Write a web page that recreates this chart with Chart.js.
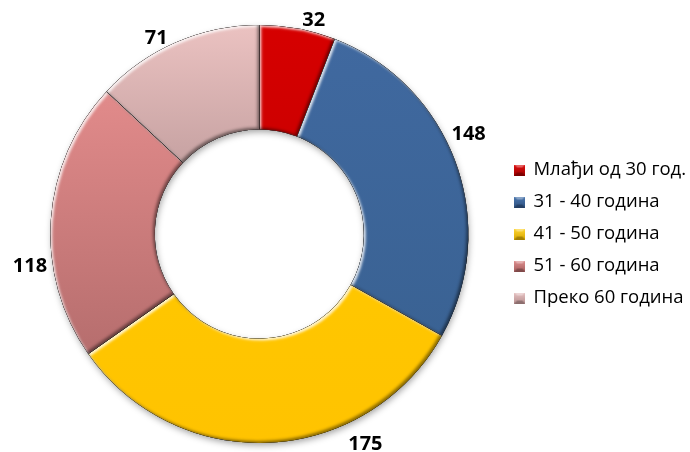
<!DOCTYPE html>
<html>
<head>
<meta charset="utf-8">
<script src="https://cdn.jsdelivr.net/npm/chart.js@4.4.0/dist/chart.umd.min.js"></script>
<style>
  html, body { margin: 0; padding: 0; background: #fff; }
  canvas { display: block; }
</style>
</head>
<body>
<canvas id="ageChart" width="690" height="452"></canvas>
<script>
const ageGroups = ['Млађи од 30 год.', '31 - 40 година', '41 - 50 година', '51 - 60 година', 'Преко 60 година'];
const counts = [32, 148, 175, 118, 71];

// vertical shading of each slice: [position in ring height, colour]
const sliceShades = [
  [[0, '#D60000'], [1, '#B80000']],
  [[0, '#4069A0'], [1, '#38608F']],
  [[0, '#FFCC00'], [1, '#FFC300']],
  [[0, '#E99494'], [0.2, '#DF8989'], [0.8, '#B56D6D'], [1, '#A86464']],
  [[0, '#EBC2C1'], [0.35, '#C4A0A0'], [1, '#B08E8E']]
];
const swatchColors = [
  ['#E01010', '#A00000'],
  ['#4C78B0', '#2F5282'],
  ['#FFD633', '#D9A800'],
  ['#E09090', '#A86060'],
  ['#E8C4C4', '#B89090']
];

// nudges for the value labels, relative to a point just outside the slice middle
const labelNudge = [[12, 13], [-8, -21], [94, -20], [1, 48], [-11, 16]];

function makeSwatch(light, dark) {
  const c = document.createElement('canvas');
  c.width = 11; c.height = 11;
  const g = c.getContext('2d');
  const grad = g.createLinearGradient(0, 0, 0, 11);
  grad.addColorStop(0, light);
  grad.addColorStop(1, dark);
  g.fillStyle = grad;
  g.fillRect(0, 0, 11, 11);
  g.fillStyle = 'rgba(255,255,255,0.35)';
  g.beginPath(); g.moveTo(0, 0); g.lineTo(11, 0); g.lineTo(8, 3); g.lineTo(3, 3); g.closePath(); g.fill();
  g.fillStyle = 'rgba(0,0,0,0.25)';
  g.beginPath(); g.moveTo(0, 11); g.lineTo(11, 11); g.lineTo(8, 8); g.lineTo(3, 8); g.closePath(); g.fill();
  return c;
}
const swatches = swatchColors.map(([a, b]) => makeSwatch(a, b));

// adds one slice outline as a fresh subpath
function addSlice(ctx, a) {
  ctx.moveTo(a.x + Math.cos(a.startAngle) * a.outerRadius, a.y + Math.sin(a.startAngle) * a.outerRadius);
  ctx.arc(a.x, a.y, a.outerRadius, a.startAngle, a.endAngle);
  ctx.arc(a.x, a.y, a.innerRadius, a.endAngle, a.startAngle, true);
  ctx.closePath();
}

// soft shadow under the whole ring
const ringShadow = {
  id: 'ringShadow',
  beforeDatasetsDraw(chart) {
    const arcs = chart.getDatasetMeta(0).data;
    if (!arcs.length) return;
    const a = arcs[0];
    const ctx = chart.ctx;
    ctx.save();
    ctx.shadowColor = 'rgba(0,0,0,0.4)';
    ctx.shadowBlur = 7;
    ctx.shadowOffsetX = 1;
    ctx.shadowOffsetY = 3;
    ctx.fillStyle = '#888';
    ctx.beginPath();
    ctx.arc(a.x, a.y, a.outerRadius - 1, 0, Math.PI * 2);
    ctx.moveTo(a.x + a.innerRadius + 1, a.y);
    ctx.arc(a.x, a.y, a.innerRadius + 1, Math.PI * 2, 0, true);
    ctx.closePath();
    ctx.fill('evenodd');
    ctx.restore();
  }
};

// bevelled edges: light on upper-left facing edges, dark on lower-right ones
const bevel = {
  id: 'bevel',
  afterDatasetsDraw(chart) {
    const ctx = chart.ctx;
    const passes = [
      ['rgba(255,255,255,0.8)', 2, 2, 2.5],
      ['rgba(0,0,0,0.45)', -2, -2, 3]
    ];
    chart.getDatasetMeta(0).data.forEach(a => {
      passes.forEach(([col, dx, dy, blur]) => {
        ctx.save();
        ctx.beginPath();
        addSlice(ctx, a);
        ctx.clip();
        ctx.beginPath();
        ctx.rect(-2000, -2000, 5000, 5000);
        addSlice(ctx, a);
        ctx.shadowColor = col;
        ctx.shadowBlur = blur;
        ctx.shadowOffsetX = dx;
        ctx.shadowOffsetY = dy;
        ctx.fillStyle = '#000';
        ctx.fill('evenodd');
        ctx.restore();
      });
    });
  }
};

const valueLabels = {
  id: 'valueLabels',
  afterDraw(chart) {
    const ctx = chart.ctx;
    const values = chart.data.datasets[0].data;
    ctx.save();
    ctx.font = 'bold 20px "Open Sans"';
    ctx.fillStyle = '#000';
    ctx.textAlign = 'center';
    ctx.textBaseline = 'middle';
    chart.getDatasetMeta(0).data.forEach((a, i) => {
      const mid = (a.startAngle + a.endAngle) / 2;
      const r = a.outerRadius + 22;
      const [nx, ny] = labelNudge[i];
      ctx.fillText(String(values[i]), a.x + Math.cos(mid) * r + nx, a.y + Math.sin(mid) * r + ny);
    });
    ctx.restore();
  }
};

new Chart(document.getElementById('ageChart'), {
  type: 'doughnut',
  data: {
    labels: ageGroups,
    datasets: [{
      data: counts,
      borderWidth: 0,
      backgroundColor(c) {
        const chart = c.chart;
        const area = chart.chartArea;
        const shades = sliceShades[c.dataIndex];
        if (!area) return shades[0][1];
        const g = chart.ctx.createLinearGradient(0, area.top, 0, area.bottom);
        shades.forEach(([p, col]) => g.addColorStop(p, col));
        return g;
      }
    }]
  },
  options: {
    responsive: false,
    animation: false,
    cutout: '50%',
    layout: { padding: { left: 17, right: -6, top: 25, bottom: 9 } },
    plugins: {
      tooltip: { enabled: false },
      legend: {
        position: 'right',
        labels: {
          usePointStyle: true,
          pointStyleWidth: 9,
          padding: 13.5,
          color: '#000',
          font: { family: '"Open Sans"', size: 18.5 },
          generateLabels(chart) {
            const items = Chart.overrides.doughnut.plugins.legend.labels.generateLabels(chart);
            return items.map((it, i) => Object.assign(it, { pointStyle: swatches[i] }));
          }
        }
      }
    }
  },
  plugins: [ringShadow, bevel, valueLabels]
});
</script>
</body>
</html>
